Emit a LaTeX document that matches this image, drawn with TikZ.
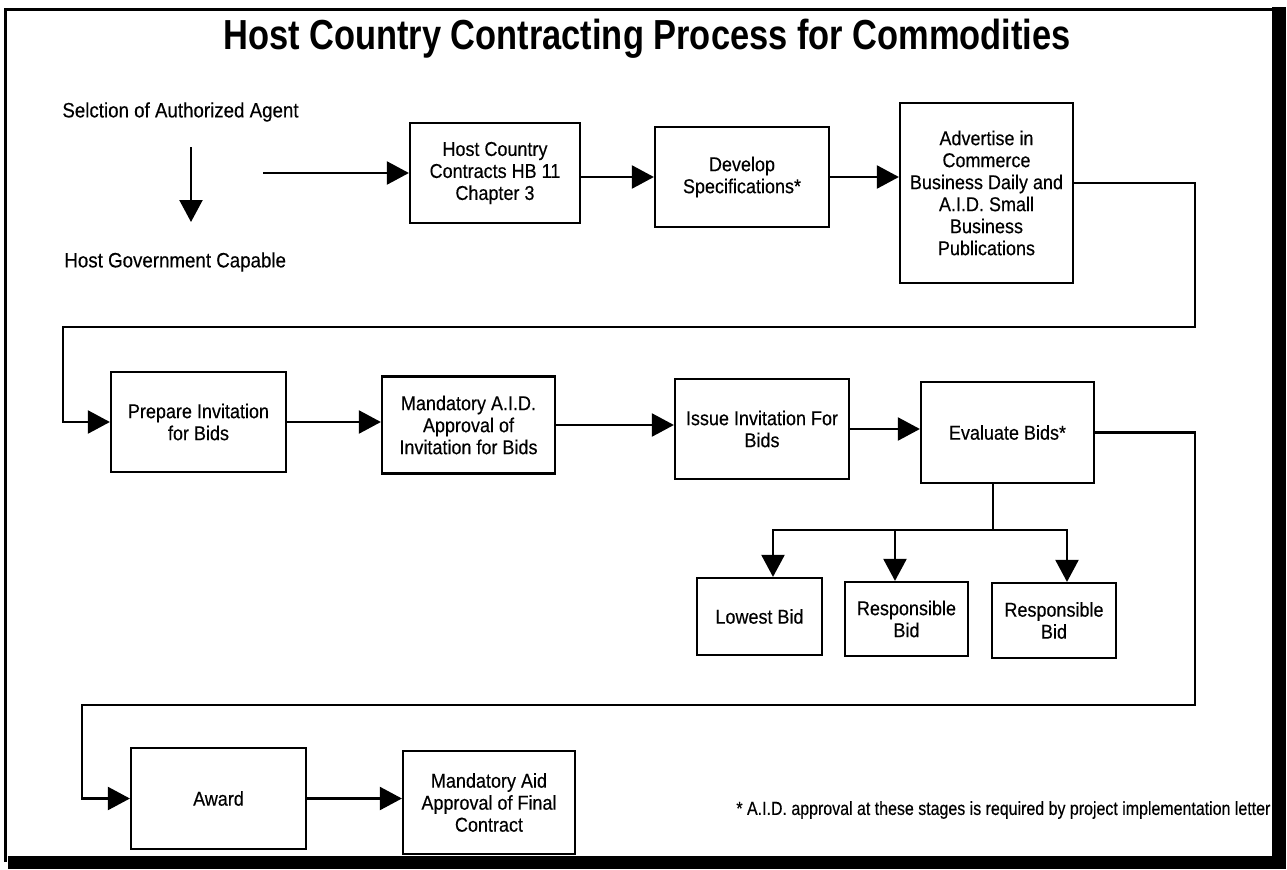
\documentclass[tikz,border=0pt]{standalone}
\usepackage{fontspec}
\setmainfont[FakeStretch=0.9, FakeBold=0.3]{Liberation Sans}
\newfontfamily\titlefont[FakeStretch=0.82]{Liberation Sans}
\newfontfamily\notefont[FakeStretch=0.84, FakeBold=0.3]{Liberation Sans}
\usetikzlibrary{arrows.meta}
\begin{document}
\begin{tikzpicture}[x=0.5pt,y=-0.5pt,
  stepbox/.style={draw=black, line width=1.1pt, align=center, inner sep=2pt,
    font=\fontsize{10}{11}\selectfont},
  flow/.style={line width=1.1pt, -{Triangle[length=11pt,width=11.5pt]}},
  link/.style={line width=1.1pt},
  freelabel/.style={font=\fontsize{10.4}{12}\selectfont, inner sep=0pt}]

\useasboundingbox (0,0) rectangle (1287,869);
\fill[white] (0,0) rectangle (1287,869);

% page frame: thin top and left, heavy right and bottom
\draw[line width=1.5pt] (1278,9) -- (5,9) -- (5,862);
\fill[black] (1272,7) rectangle (1286,869);
\fill[black] (8,856) rectangle (1286,869);

% title
\node[font=\titlefont\bfseries\fontsize{21}{24}\selectfont, inner sep=0pt]
  (title) at (647,39) {Host Country Contracting Process for Commodities};

% agent selection
\node[freelabel, anchor=west] (sel) at (62,112) {Selction of Authorized Agent};
\node[freelabel, anchor=west] (gov) at (64,262) {Host Government Capable};
\coordinate (dtop) at (191,147);
\coordinate (dbot) at (191,222);
\draw[flow] (dtop) -- (dbot);
\coordinate (start) at (263,173);

% first row
\node[stepbox, minimum width=85pt, minimum height=50pt] (b1) at (495,173)
  {Host Country\\Contracts HB 11\\Chapter 3};
\node[stepbox, minimum width=87pt, minimum height=50pt] (b2) at (742,177)
  {Develop\\Specifications*};
\node[stepbox, minimum width=86.5pt, minimum height=90pt] (b3) at (986.5,193)
  {Advertise in\\Commerce\\Business Daily and\\A.I.D. Small\\Business\\Publications};

% second row
\node[stepbox, minimum width=87.5pt, minimum height=50pt] (b4) at (198.5,422)
  {Prepare Invitation\\for Bids};
\node[stepbox, minimum width=86.5pt, minimum height=48.5pt] (b5) at (468.5,425)
  {Mandatory A.I.D.\\Approval of\\Invitation for Bids};
\node[stepbox, minimum width=87pt, minimum height=50pt] (b6) at (762,429)
  {Issue Invitation For\\Bids};
\node[stepbox, minimum width=86.5pt, minimum height=50.5pt] (b7) at (1007.5,432.5)
  {Evaluate Bids*};

% bid outcomes
\node[stepbox, minimum width=62.5pt, minimum height=38.5pt] (low) at (759.5,616.5)
  {Lowest Bid};
\node[stepbox, minimum width=61.5pt, minimum height=37pt] (resp1) at (906.5,619)
  {Responsible\\Bid};
\node[stepbox, minimum width=62pt, minimum height=37.5pt] (resp2) at (1054,620.5)
  {Responsible\\Bid};

% last row
\node[stepbox, minimum width=87.5pt, minimum height=50.5pt] (award) at (218.5,798.5)
  {Award};
\node[stepbox, minimum width=86pt, minimum height=51.5pt] (final) at (489,802.5)
  {Mandatory Aid\\Approval of Final\\Contract};

\node[font=\notefont\fontsize{9.5}{11}\selectfont, inner sep=0pt, anchor=west]
  (note) at (736,810)
  {* A.I.D. approval at these stages is required by project implementation letter};

% connectors
\draw[flow] (start) -- (b1.west);
\draw[flow] (b1.east |- b2.west) -- (b2.west);
\draw[flow] (b2.east) -- (b3.west |- b2.east);

\coordinate (r1) at (1195,327);
\coordinate (l1) at (63,327);
\draw[flow] ([yshift=5pt]b3.east) -| (r1) -- (l1) |- (b4.west);

\draw[flow] (b4.east) -- (b5.west |- b4.east);
\draw[flow] (b5.east) -- (b6.west |- b5.east);
\draw[flow] (b6.east) -- (b7.west |- b6.east);

\coordinate (r2) at (1195,705);
\coordinate (l2) at (82,705);
\draw[flow] (b7.east) -| (r2) -- (l2) |- (award.west);

\coordinate (j) at (993,530);
\draw[link] (b7.south -| j) -- (j);
\draw[flow] (j) -| ([xshift=6.75pt]low.north);
\draw[flow] (j) -| ([xshift=-5.75pt]resp1.north);
\draw[flow] (j) -| ([xshift=6.5pt]resp2.north);

\draw[flow] (award.east) -- (final.west |- award.east);
\end{tikzpicture}
\end{document}
